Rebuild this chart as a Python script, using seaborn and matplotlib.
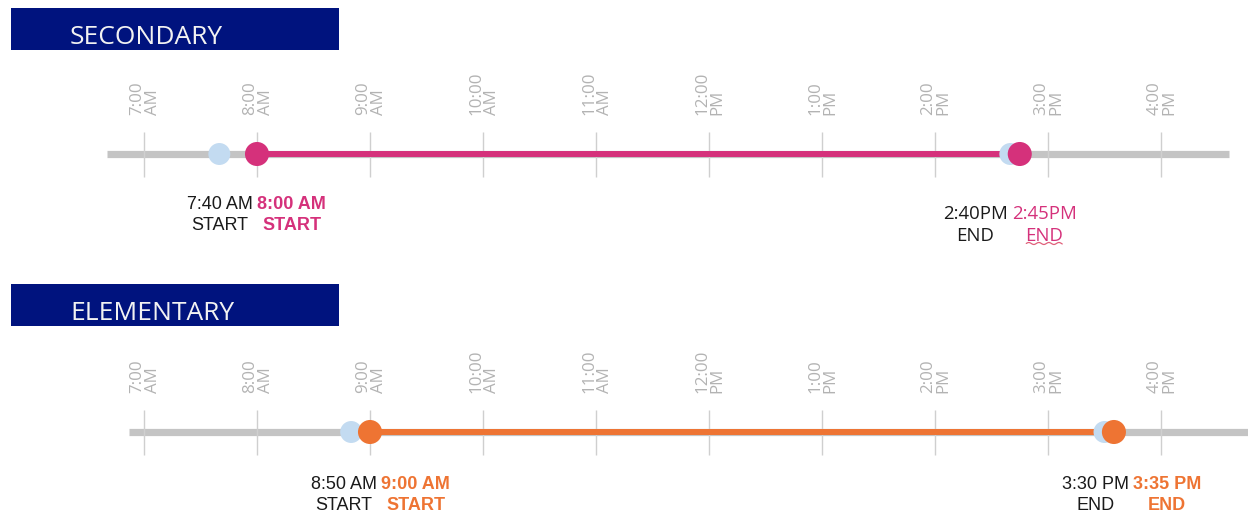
import numpy as np
import pandas as pd
import matplotlib
matplotlib.use("Agg")
import matplotlib.pyplot as plt
from matplotlib.patches import Rectangle
from matplotlib.transforms import offset_copy
import seaborn as sns

# ---- schedule data (hours on a 24h clock) ----
schools = ["SECONDARY", "ELEMENTARY"]
old_start = [7 + 40 / 60, 8 + 50 / 60]
old_end = [14 + 40 / 60, 15 + 30 / 60]
new_start = [8.0, 9.0]
new_end = [14 + 45 / 60, 15 + 35 / 60]
old_start_labels = ["7:40 AM", "8:50 AM"]
old_end_labels = ["2:40PM", "3:30 PM"]
new_start_labels = ["8:00 AM", "9:00 AM"]
new_end_labels = ["2:45PM", "3:35 PM"]
track_start = [6.67, 6.87]
track_end = [16.6, 16.9]
hour_ticks = [7, 8, 9, 10, 11, 12, 13, 14, 15, 16]
hour_tick_labels = ["7:00\nAM", "8:00\nAM", "9:00\nAM", "10:00\nAM", "11:00\nAM",
                    "12:00\nPM", "1:00\nPM", "2:00\nPM", "3:00\nPM", "4:00\nPM"]

# ---- styling / layout ----
accent = ["#d5317b", "#ee7433"]
old_color = "#c3dbf1"
track_color = "#c4c4c4"
tick_color = "#cfcfcf"
tick_text = "#b3b3b3"
navy = "#00137e"
W, H = 1248, 517
row_y = [154, 432]          # pixel row of each timeline
banner_top = [8, 284]
label_nudge = [(-2, -10), (9, 17)]   # px shift of each label pair (start, end)
label_drop = [(0, 9), (2, 2)]        # extra px drop of each label pair
label_style = [
    [dict(family=["Liberation Sans", "DejaVu Sans"], size=13, bold=True),
     dict(family=["Open Sans", "DejaVu Sans"], size=13.4, bold=False)],
    [dict(family=["Liberation Sans", "DejaVu Sans"], size=13, bold=True),
     dict(family=["Liberation Sans", "DejaVu Sans"], size=13, bold=True)],
]

sns.set_theme(style="white")
plt.rcParams["font.family"] = ["Liberation Sans", "DejaVu Sans"]

fig = plt.figure(figsize=(W / 100, H / 100), dpi=100)
ax = fig.add_axes([0, 0, 1, 1])
px_per_hour = 113.0
x0 = 7 - 144 / px_per_hour
ax.set_xlim(x0, x0 + W / px_per_hour)
ax.set_ylim(H, 0)
ax.axis("off")

for i, school in enumerate(schools):
    y = row_y[i]

    # header banner
    ax.add_patch(Rectangle((11 / W, 1 - (banner_top[i] + 42) / H), 328 / W, 42 / H,
                           transform=ax.transAxes, facecolor=navy, edgecolor="none"))
    ax.text(70 / W, 1 - (banner_top[i] + 29) / H, school, transform=ax.transAxes,
            ha="left", va="center", color="#f2f2f2", fontsize=19,
            family=["Open Sans", "DejaVu Sans"])

    # grey track
    track = pd.DataFrame({"t": [track_start[i], track_end[i]], "y": [y, y]})
    sns.lineplot(data=track, x="t", y="y", ax=ax, color=track_color, lw=5.2,
                 solid_capstyle="butt", zorder=1, estimator=None)

    # hour ticks and their labels
    ax.vlines(hour_ticks, y - 22, y + 23, color=tick_color, lw=1, zorder=2)
    for h, lab in zip(hour_ticks, hour_tick_labels):
        ax.text(h + 0.01, y - 39, lab, rotation=90, ha="center", va="bottom",
                multialignment="left", color=tick_text, fontsize=12.2,
                linespacing=0.95, family=["Open Sans", "DejaVu Sans"])

    # new school-day span
    span = pd.DataFrame({"t": [new_start[i], new_end[i]], "y": [y, y]})
    sns.lineplot(data=span, x="t", y="y", ax=ax, color=accent[i], lw=4.3,
                 solid_capstyle="butt", zorder=3, estimator=None)

    # old and new start/end markers
    olds = pd.DataFrame({"t": [old_start[i], old_end[i]], "y": [y, y]})
    news = pd.DataFrame({"t": [new_start[i], new_end[i]], "y": [y, y]})
    sns.scatterplot(data=olds, x="t", y="y", ax=ax, color=old_color, s=250,
                    edgecolor="none", zorder=4)
    sns.scatterplot(data=news, x="t", y="y", ax=ax, color=accent[i], s=300,
                    edgecolor="none", zorder=5)

    # time labels
    pairs = [(new_start[i], old_start_labels[i], new_start_labels[i], "START"),
             (new_end[i], old_end_labels[i], new_end_labels[i], "END")]
    for k, (t, old_lab, new_lab, word) in enumerate(pairs):
        st = label_style[i][k]
        base = offset_copy(ax.transData, fig=fig, x=label_nudge[i][k] * 0.72,
                           units="points")
        ty = y + 42 + label_drop[i][k]
        ax.text(t, ty, f"{old_lab}\n{word}",
                transform=offset_copy(base, fig=fig, x=-1.5, units="points"),
                ha="right", va="top", multialignment="center", color="#1a1a1a",
                fontsize=st["size"], family=st["family"], linespacing=1.32)
        txt = ax.text(t, ty, f"{new_lab}\n{word}",
                      transform=offset_copy(base, fig=fig, x=1.5, units="points"),
                      ha="left", va="top", multialignment="center", color=accent[i],
                      fontsize=st["size"], family=st["family"],
                      fontweight="bold" if st["bold"] else "normal", linespacing=1.32)
        if not st["bold"]:
            # squiggly proofing underline beneath the second line
            fig.canvas.draw()
            bb = txt.get_window_extent()
            cx = (bb.x0 + bb.x1) / 2
            xs = np.linspace(cx - 18, cx + 18, 60)
            ys = bb.y0 + 2 + 1.0 * np.sin((xs - xs[0]) / 1.6)
            ax.plot(xs, ys, transform=None, color="#e0607a", lw=0.9, zorder=6)

fig.savefig("out.png", dpi=100)
